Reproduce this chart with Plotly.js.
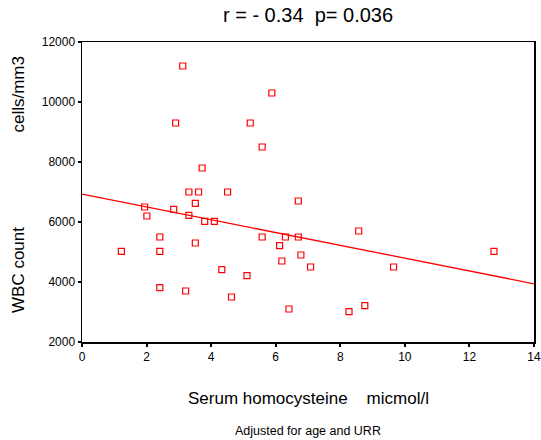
<!DOCTYPE html>
<html>
<head>
<meta charset="utf-8">
<script src="https://cdn.plot.ly/plotly-3.0.1.min.js"></script>
<style>html,body{margin:0;padding:0;background:#fff;}#chart{width:541px;height:440px;}</style>
</head>
<body>
<div id="chart"></div>
<script>
// Serum homocysteine (micmol/l)
const homocysteine = [3.12, 5.88, 2.90, 5.21, 5.58, 3.72, 3.31, 3.61, 4.51, 6.70,
  1.94, 2.01, 2.84, 3.51, 3.31, 3.80, 4.10, 5.58, 6.30, 6.70,
  2.41, 3.51, 1.22, 2.41, 6.12, 6.19, 6.78, 7.08, 4.33, 5.11,
  2.41, 3.21, 4.63, 6.41, 8.57, 12.76, 9.65, 8.27, 8.76];
// WBC count (cells/mm3)
const wbcCount = [11200, 10300, 9300, 9300, 8500, 7800, 7000, 7000, 7000, 6700,
  6500, 6200, 6420, 6620, 6220, 6020, 6020, 5500, 5500, 5500,
  5500, 5300, 5020, 5020, 5210, 4700, 4900, 4500, 4410, 4210,
  3810, 3700, 3500, 3100, 5700, 5020, 4500, 3010, 3210];
// Fitted regression line end points
const fitX = [0, 14];
const fitY = [6930, 3940];
const xTicks = [0, 2, 4, 6, 8, 10, 12, 14];
const yTicks = [2000, 4000, 6000, 8000, 10000, 12000];

const nb = '\u00a0';
const data = [
  {x: homocysteine, y: wbcCount, type: 'scatter', mode: 'markers',
   marker: {symbol: 'square-open', size: 6, color: '#ff0000', line: {width: 1.2, color: '#ff0000'}},
   cliponaxis: false, hoverinfo: 'x+y'},
  {x: fitX, y: fitY, type: 'scatter', mode: 'lines',
   line: {color: '#ff0000', width: 1.3}, hoverinfo: 'skip'}
];
const axisCommon = {
  showline: true, linecolor: '#000', linewidth: 1.5, mirror: true,
  ticks: 'outside', ticklen: 3, tickwidth: 2, tickcolor: '#000',
  showgrid: false, zeroline: false, ticklabeloverflow: 'allow',
  tickfont: {family: 'Liberation Sans, Arial, sans-serif', size: 12, color: '#000'}
};
const layout = {
  width: 541, height: 440,
  margin: {l: 82, r: 7, t: 42, b: 98},
  paper_bgcolor: '#fff', plot_bgcolor: '#fff',
  showlegend: false,
  font: {family: 'Liberation Sans, Arial, sans-serif', color: '#000'},
  title: {text: 'r = - 0.34' + nb + nb + 'p= 0.036', font: {size: 20, color: '#000'},
          xref: 'paper', x: 0.5, xanchor: 'center', yref: 'container', y: 1 - 15/440, yanchor: 'middle'},
  xaxis: Object.assign({}, axisCommon, {range: [0, 14], tickvals: xTicks, ticktext: xTicks.map(String)}),
  yaxis: Object.assign({}, axisCommon, {range: [2000, 12000], tickvals: yTicks, ticktext: yTicks.map(String)}),
  annotations: [
    {text: 'WBC count' + nb.repeat(20) + 'cells/mm3', xref: 'paper', yref: 'paper', x: 0, y: 0.5,
     xanchor: 'center', yanchor: 'middle', xshift: -64, yshift: 7, textangle: -90, showarrow: false,
     font: {size: 17, color: '#000'}},
    {text: 'Serum homocysteine' + nb.repeat(4) + 'micmol/l', xref: 'paper', yref: 'paper', x: 0.5, y: 0,
     xanchor: 'center', yanchor: 'middle', yshift: -56, showarrow: false, font: {size: 17, color: '#000'}},
    {text: 'Adjusted for age and URR', xref: 'paper', yref: 'paper', x: 0.5, y: 0,
     xanchor: 'center', yanchor: 'middle', yshift: -89, showarrow: false, font: {size: 12.5, color: '#000'}}
  ]
};
Plotly.newPlot('chart', data, layout, {staticPlot: true, displayModeBar: false});
</script>
</body>
</html>
